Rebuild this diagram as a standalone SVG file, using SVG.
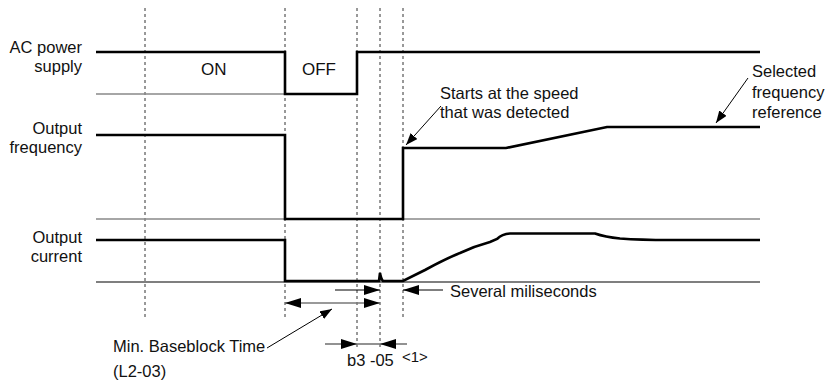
<svg xmlns="http://www.w3.org/2000/svg" width="826" height="392" viewBox="0 0 826 392">
<style>
text{font-family:"Liberation Sans",Arial,sans-serif;font-size:16.5px;fill:#111}
.lbl{text-anchor:end}
.sig{fill:none;stroke:#000;stroke-width:2.6;stroke-linejoin:miter}
.base{fill:none;stroke:#888;stroke-width:1.6}
.baseb{fill:none;stroke:#000;stroke-width:1.2}
.dash{stroke:#333;stroke-width:1;stroke-dasharray:3,3}
.ptr{stroke:#000;stroke-width:1;fill:none}
.dim{stroke:#000;stroke-width:1.2;fill:none}
.dimg{stroke:#777;stroke-width:1.6;fill:none}
</style>
<defs>
<marker id="ah" markerUnits="userSpaceOnUse" markerWidth="17" markerHeight="11" refX="16" refY="5" orient="auto-start-reverse"><path d="M0,0 L16,5 L0,10 z" fill="#000"/></marker>
<marker id="pa" markerUnits="userSpaceOnUse" markerWidth="13" markerHeight="10" refX="12" refY="4.5" orient="auto"><path d="M0,0 L12,4.5 L0,9 z" fill="#000"/></marker>
</defs>
<rect width="826" height="392" fill="#fff"/>
<g id="gridlines">
<line class="dash" x1="145" y1="8" x2="145" y2="320"/>
<line class="dash" x1="285" y1="8" x2="285" y2="320"/>
<line class="dash" x1="357" y1="8" x2="357" y2="348"/>
<line class="dash" x1="380" y1="8" x2="380" y2="348"/>
<line class="dash" x1="403" y1="8" x2="403" y2="318"/>
</g>
<g id="ac-power">
<text class="lbl" x="82" y="53">AC power</text>
<text class="lbl" x="82" y="72">supply</text>
<line class="base" x1="96" y1="94" x2="285" y2="94"/>
<path class="sig" d="M96,52 H285 V94 H357 V52 H760"/>
<text x="201" y="75" style="font-size:17px">ON</text>
<text x="302" y="75" style="font-size:17px">OFF</text>
</g>
<g id="output-frequency">
<text class="lbl" x="82" y="134">Output</text>
<text class="lbl" x="82" y="153">frequency</text>
<line class="base" x1="96" y1="219" x2="760" y2="219"/>
<path class="sig" d="M96,135 H285 V219 H403 V148 H506 L607,127 H760"/>
</g>
<g id="output-current">
<text class="lbl" x="82" y="243">Output</text>
<text class="lbl" x="82" y="262">current</text>
<line class="baseb" x1="96" y1="282" x2="760" y2="282"/>
<path class="sig" d="M96,240 H285 V281 H379 L380,273 Q381,279 383,281 H403 L425,270 Q445,259 460,253 Q475,246 490,242 L497,239 Q502,234 510,233.5 H595 Q605,237 620,238.5 Q640,240 670,240 H760"/>
</g>
<g id="annotations">
<text x="440" y="98.5">Starts at the speed</text>
<text x="440" y="118">that was detected</text>
<text x="752" y="77">Selected</text>
<text x="752" y="97.5">frequency</text>
<text x="752" y="118">reference</text>
<text x="450" y="297">Several miliseconds</text>
<text x="113" y="352">Min. Baseblock Time</text>
<text x="113" y="377">(L2-03)</text>
<text x="347" y="366" xml:space="preserve">b3 -05</text>
<text x="402" y="362" style="font-size:15px">&lt;1&gt;</text>
</g>
<g id="connectors">
<line class="ptr" x1="441" y1="106" x2="406" y2="145" marker-end="url(#pa)"/>
<line class="ptr" x1="748" y1="78" x2="716" y2="123" marker-end="url(#pa)"/>
<line class="ptr" x1="267" y1="348" x2="332" y2="309" marker-end="url(#pa)"/>
<line class="dim" x1="335" y1="290" x2="380" y2="290" marker-end="url(#ah)"/>
<line class="dim" x1="443" y1="290" x2="403" y2="290" marker-end="url(#ah)"/>
<line class="dimg" x1="285" y1="303" x2="380" y2="303" marker-start="url(#ah)" marker-end="url(#ah)"/>
<line class="dimg" x1="325" y1="344" x2="357" y2="344" marker-end="url(#ah)"/>
<line class="dimg" x1="357" y1="344" x2="380" y2="344"/>
<line class="dimg" x1="407" y1="344" x2="380" y2="344" marker-end="url(#ah)"/>
</g>
</svg>
